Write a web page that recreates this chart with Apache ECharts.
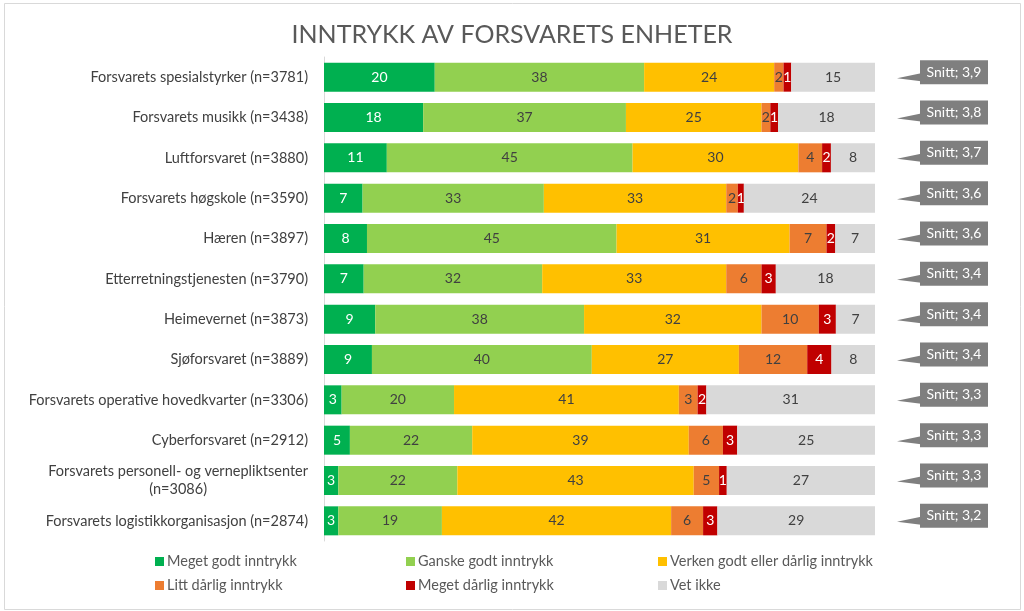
<!DOCTYPE html>
<html>
<head>
<meta charset="utf-8">
<script src="https://cdn.jsdelivr.net/npm/echarts@6/dist/echarts.min.js"></script>
<style>
html,body{margin:0;padding:0;background:#fff;}
#chart{width:1024px;height:611px;}
</style>
</head>
<body>
<div id="chart"></div>
<script>
const title = 'INNTRYKK AV FORSVARETS ENHETER';
const categories = [
  'Forsvarets spesialstyrker (n=3781)',
  'Forsvarets musikk (n=3438)',
  'Luftforsvaret (n=3880)',
  'Forsvarets høgskole (n=3590)',
  'Hæren (n=3897)',
  'Etterretningstjenesten (n=3790)',
  'Heimevernet (n=3873)',
  'Sjøforsvaret (n=3889)',
  'Forsvarets operative hovedkvarter (n=3306)',
  'Cyberforsvaret (n=2912)',
  'Forsvarets personell- og vernepliktsenter\n(n=3086)',
  'Forsvarets logistikkorganisasjon (n=2874)'
];
const seriesNames = ['Meget godt inntrykk','Ganske godt inntrykk','Verken godt eller dårlig inntrykk','Litt dårlig inntrykk','Meget dårlig inntrykk','Vet ikke'];
const megetGodt   = [20.1, 18.0, 11.4, 7.0, 7.8, 7.2, 9.3, 8.7, 3.2, 4.7, 2.6, 2.6];
const ganskeGodt  = [38.0, 36.8, 44.6, 32.9, 45.3, 32.4, 37.9, 39.9, 20.4, 22.2, 21.6, 18.8];
const verken      = [23.6, 24.6, 30.1, 33.1, 31.4, 33.4, 32.2, 26.7, 40.8, 39.3, 42.9, 41.6];
const littDarlig  = [1.7, 1.6, 4.3, 2.1, 6.7, 6.4, 10.4, 12.4, 3.4, 6.2, 4.6, 5.8];
const megetDarlig = [1.4, 1.4, 1.6, 1.1, 1.6, 2.6, 3.1, 4.4, 1.6, 2.6, 1.4, 2.6];
const vetIkke     = [15.2, 17.6, 8.0, 23.8, 7.2, 18.0, 7.1, 7.9, 30.6, 25.0, 26.9, 28.6];
const snitt       = [3.9, 3.8, 3.7, 3.6, 3.6, 3.4, 3.4, 3.4, 3.3, 3.3, 3.3, 3.2];

const colors = ['#00b050','#92d050','#ffc000','#ed7d31','#c00000','#d9d9d9'];
const labelColors = ['#ffffff','#404040','#404040','#404040','#ffffff','#404040'];
const values = [megetGodt, ganskeGodt, verken, littDarlig, megetDarlig, vetIkke];
const FONT = 'Lato, "Open Sans", sans-serif';

const chart = echarts.init(document.getElementById('chart'), null, {renderer:'canvas'});

const barSeries = seriesNames.map((name, i) => ({
  name: name,
  type: 'bar',
  stack: 'total',
  barWidth: 29,
  itemStyle: {color: colors[i]},
  label: {
    show: true,
    position: 'inside',
    color: labelColors[i],
    fontSize: 14,
    fontFamily: FONT,
    formatter: p => String(Math.round(p.value))
  },
  emphasis: {disabled: true},
  data: values[i]
}));

const snittSeries = {
  type: 'custom',
  name: 'Snitt',
  coordinateSystem: 'cartesian2d',
  clip: false,
  silent: true,
  z: 10,
  data: snitt.map((s, i) => [100, i, s]),
  encode: {x: 0, y: 1},
  renderItem: function (params, api) {
    const p = api.coord([api.value(0), api.value(1)]);
    const x = p[0], y = p[1];
    const txt = 'Snitt; ' + api.value(2).toFixed(1).replace('.', ',');
    return {
      type: 'group',
      children: [
        {type: 'polygon', shape: {points: [[x + 22, y + 1], [x + 46, y - 4], [x + 46, y + 4]]}, style: {fill: '#7f7f7f'}},
        {type: 'rect', shape: {x: x + 45, y: y - 17, width: 68, height: 24}, style: {fill: '#7f7f7f'}},
        {type: 'text', style: {x: x + 79, y: y - 5, text: txt, fill: '#ffffff', font: '14px ' + FONT, textAlign: 'center', textVerticalAlign: 'middle'}}
      ]
    };
  }
};

const legendCommon = {
  orient: 'vertical',
  top: 549,
  itemGap: 9,
  itemWidth: 9,
  itemHeight: 9,
  icon: 'rect',
  textStyle: {color: '#595959', fontSize: 14.5, fontFamily: FONT, padding: [0, 0, 0, -2]},
  selectedMode: false
};

const option = {
  backgroundColor: '#ffffff',
  animation: false,
  title: {
    text: title,
    left: 'center',
    top: 17,
    textStyle: {color: '#595959', fontSize: 25, fontWeight: 'normal', fontFamily: FONT}
  },
  legend: [
    Object.assign({}, legendCommon, {left: 150, data: [seriesNames[0], seriesNames[3]]}),
    Object.assign({}, legendCommon, {left: 401, data: [seriesNames[1], seriesNames[4]]}),
    Object.assign({}, legendCommon, {left: 653, data: [seriesNames[2], seriesNames[5]]})
  ],
  grid: {left: 324, right: 149, top: 57, bottom: 70, containLabel: false},
  xAxis: {
    type: 'value', min: 0, max: 100, show: false
  },
  yAxis: {
    type: 'category',
    inverse: true,
    data: categories,
    axisLine: {show: true, lineStyle: {color: '#d9d9d9'}},
    axisTick: {show: false},
    axisLabel: {
      margin: 16,
      color: '#404040',
      fontSize: 14.5,
      fontFamily: FONT,
      formatter: v => v.split('\n').map(s => '{c|' + s + '}').join('\n'),
      rich: {c: {align: 'center', fontSize: 14.5, fontFamily: FONT, color: '#404040', lineHeight: 18}}
    }
  },
  graphic: [{
    type: 'rect', left: 2, top: 1, silent: true,
    shape: {width: 1016, height: 606},
    style: {fill: 'none', stroke: '#d9d9d9', lineWidth: 1}
  }],
  series: barSeries.concat([snittSeries])
};
chart.setOption(option);
</script>
</body>
</html>
